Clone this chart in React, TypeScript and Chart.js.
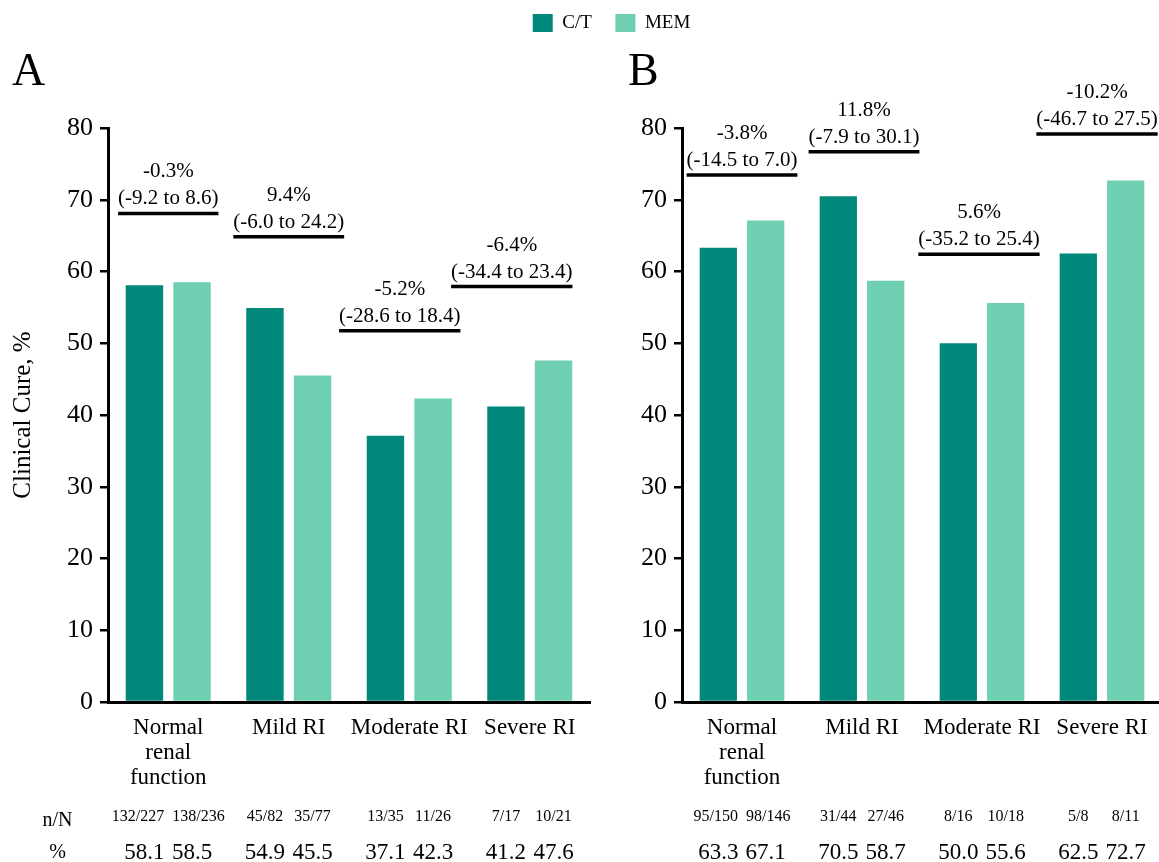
import React, { useEffect, useRef } from 'react';
import { Chart, registerables } from 'chart.js';

Chart.register(...registerables);

// ---- data ----
const categories: (string | string[])[] = [['Normal', 'renal', 'function'], 'Mild RI', 'Moderate RI', 'Severe RI'];
const seriesNames = ['C/T', 'MEM'];
const yMin = 0;
const yMax = 80;
const yStep = 10;

// Panel A
const ctCureA = [58.1, 54.9, 37.1, 41.2];
const memCureA = [58.5, 45.5, 42.3, 47.6];
const ctCountsA = ['132/227', '45/82', '13/35', '7/17'];
const memCountsA = ['138/236', '35/77', '11/26', '10/21'];
const diffA = ['-0.3%', '9.4%', '-5.2%', '-6.4%'];
const ciA = ['(-9.2 to 8.6)', '(-6.0 to 24.2)', '(-28.6 to 18.4)', '(-34.4 to 23.4)'];
const bracketLevelA = [68.1, 64.85, 51.75, 57.9];

// Panel B
const ctCureB = [63.3, 70.5, 50.0, 62.5];
const memCureB = [67.1, 58.7, 55.6, 72.7];
const ctCountsB = ['95/150', '31/44', '8/16', '5/8'];
const memCountsB = ['98/146', '27/46', '10/18', '8/11'];
const diffB = ['-3.8%', '11.8%', '5.6%', '-10.2%'];
const ciB = ['(-14.5 to 7.0)', '(-7.9 to 30.1)', '(-35.2 to 25.4)', '(-46.7 to 27.5)'];
const bracketLevelB = [73.45, 76.7, 62.4, 79.15];

// ---- styling ----
const SERIF = "'Liberation Serif', 'Times New Roman', serif";
const CT_COLOR = '#00887A';
const MEM_COLOR = '#6ECFB2';
const W = 1159;
const H = 862;

type PanelCfg = {
  letter: string;
  letterX: number;
  diffs: string[];
  cis: string[];
  levels: number[];
  shifts: number[];
  counts: [string[], string[]];
  rowLabels: boolean;
  legend: boolean;
};

function panelPlugin(cfg: PanelCfg) {
  return {
    id: 'panelDecor',
    afterDraw(chart: any) {
      const ctx: CanvasRenderingContext2D = chart.ctx;
      const xs = chart.scales.x;
      const ys = chart.scales.y;
      ctx.save();
      ctx.fillStyle = '#000';
      ctx.strokeStyle = '#000';
      ctx.textAlign = 'center';
      ctx.textBaseline = 'middle';

      // difference labels with underline brackets
      for (let i = 0; i < cfg.cis.length; i++) {
        const cx = xs.getPixelForValue(i) + cfg.shifts[i];
        const ly = ys.getPixelForValue(cfg.levels[i]);
        ctx.font = `21px ${SERIF}`;
        const w = ctx.measureText(cfg.cis[i]).width;
        ctx.lineWidth = 3.5;
        ctx.beginPath();
        ctx.moveTo(cx - w / 2, ly);
        ctx.lineTo(cx + w / 2, ly);
        ctx.stroke();
        ctx.fillText(cfg.cis[i], cx, ly - 14.5);
        ctx.fillText(cfg.diffs[i], cx, ly - 41.5);
      }

      // n/N and % rows under each bar
      const m0 = chart.getDatasetMeta(0);
      const m1 = chart.getDatasetMeta(1);
      const v0 = chart.data.datasets[0].data as number[];
      const v1 = chart.data.datasets[1].data as number[];
      for (let i = 0; i < v0.length; i++) {
        const b0 = m0.data[i].x;
        const b1 = m1.data[i].x;
        const pc = (b0 + b1) / 2;
        ctx.font = `16px ${SERIF}`;
        const w0 = ctx.measureText(cfg.counts[0][i]).width;
        const w1 = ctx.measureText(cfg.counts[1][i]).width;
        const c0 = Math.min(b0, pc - w0 / 2 - 4);
        const c1 = Math.max(b1, pc + w1 / 2 + 4);
        ctx.fillText(cfg.counts[0][i], c0, 817);
        ctx.fillText(cfg.counts[1][i], c1, 817);
        ctx.font = `23px ${SERIF}`;
        ctx.fillText(v0[i].toFixed(1), b0, 853);
        ctx.fillText(v1[i].toFixed(1), b1, 853);
      }
      if (cfg.rowLabels) {
        ctx.font = `20px ${SERIF}`;
        ctx.fillText('n/N', 57.5, 821);
        ctx.fillText('%', 57.5, 853);
      }

      // panel letter
      ctx.font = `46px ${SERIF}`;
      ctx.textAlign = 'left';
      ctx.textBaseline = 'alphabetic';
      ctx.fillText(cfg.letter, cfg.letterX, 85);

      // shared legend across the figure
      if (cfg.legend) {
        ctx.font = `19px ${SERIF}`;
        const box = 20;
        const gapText = 9.5;
        const gapItem = 23.6;
        const ds = chart.data.datasets;
        const widths = ds.map((d: any) => box + gapText + ctx.measureText(d.label).width);
        const total = widths.reduce((a: number, b: number) => a + b, 0) + gapItem * (ds.length - 1);
        let x = 611.5 - total / 2;
        ctx.textBaseline = 'middle';
        ds.forEach((d: any, k: number) => {
          ctx.fillStyle = d.backgroundColor;
          ctx.fillRect(x, 14, box, 18);
          ctx.fillStyle = '#000';
          ctx.fillText(d.label, x + box + gapText, 23.5);
          x += widths[k] + gapItem;
        });
      }
      ctx.restore();
    },
  };
}

function makeConfig(ct: number[], mem: number[], cfg: PanelCfg, yWidth: number, rightPad: number, showTitle: boolean) {
  return {
    type: 'bar' as const,
    data: {
      labels: categories,
      datasets: [
        { label: seriesNames[0], data: ct, backgroundColor: CT_COLOR, borderWidth: 0 },
        { label: seriesNames[1], data: mem, backgroundColor: MEM_COLOR, borderWidth: 0 },
      ],
    },
    options: {
      animation: false as const,
      responsive: false,
      devicePixelRatio: 1,
      layout: { padding: { left: 0, right: rightPad, top: 128, bottom: 50 } },
      datasets: { bar: { categoryPercentage: 0.79, barPercentage: 0.786 } },
      plugins: { legend: { display: false }, tooltip: { enabled: false } },
      scales: {
        x: {
          grid: { display: false, drawTicks: false },
          border: { display: true, color: '#000', width: 3 },
          ticks: { color: '#000', padding: 14, font: { family: SERIF, size: 23, lineHeight: 1.07 }, maxRotation: 0, autoSkip: false },
          afterFit: (s: any) => { s.height = 110; },
        },
        y: {
          min: yMin,
          max: yMax,
          grid: { drawOnChartArea: false, drawTicks: true, tickLength: 8, color: '#000', lineWidth: 2.5 },
          border: { display: true, color: '#000', width: 3 },
          ticks: { stepSize: yStep, color: '#000', padding: 7, font: { family: SERIF, size: 26 } },
          title: { display: showTitle, text: 'Clinical Cure, %', color: '#000', font: { family: SERIF, size: 25 }, padding: { top: 8, bottom: 0 } },
          afterFit: (s: any) => { s.width = yWidth; },
        },
      },
    },
    plugins: [panelPlugin(cfg)],
  };
}

export default function App() {
  const refA = useRef<HTMLCanvasElement>(null);
  const refB = useRef<HTMLCanvasElement>(null);

  useEffect(() => {
    const a = new Chart(refA.current as HTMLCanvasElement, makeConfig(ctCureA, memCureA, {
      letter: 'A', letterX: 12, diffs: diffA, cis: ciA, levels: bracketLevelA,
      shifts: [0, 0, -9.5, -18], counts: [ctCountsA, memCountsA], rowLabels: true, legend: true,
    }, 108, W - 590, true) as any);
    const b = new Chart(refB.current as HTMLCanvasElement, makeConfig(ctCureB, memCureB, {
      letter: 'B', letterX: 28, diffs: diffB, cis: ciB, levels: bracketLevelB,
      shifts: [0, 2, -3, -5], counts: [ctCountsB, memCountsB], rowLabels: false, legend: false,
    }, 82, 0, false) as any);
    return () => { a.destroy(); b.destroy(); };
  }, []);

  return (
    <div style={{ position: 'fixed', left: 0, top: 0, width: W, height: H, overflow: 'hidden', background: '#fff' }}>
      <canvas ref={refA} width={W} height={H} style={{ position: 'absolute', left: 0, top: 0, display: 'block' }} />
      <canvas ref={refB} width={562} height={H} style={{ position: 'absolute', left: 600, top: 0, display: 'block' }} />
    </div>
  );
}
